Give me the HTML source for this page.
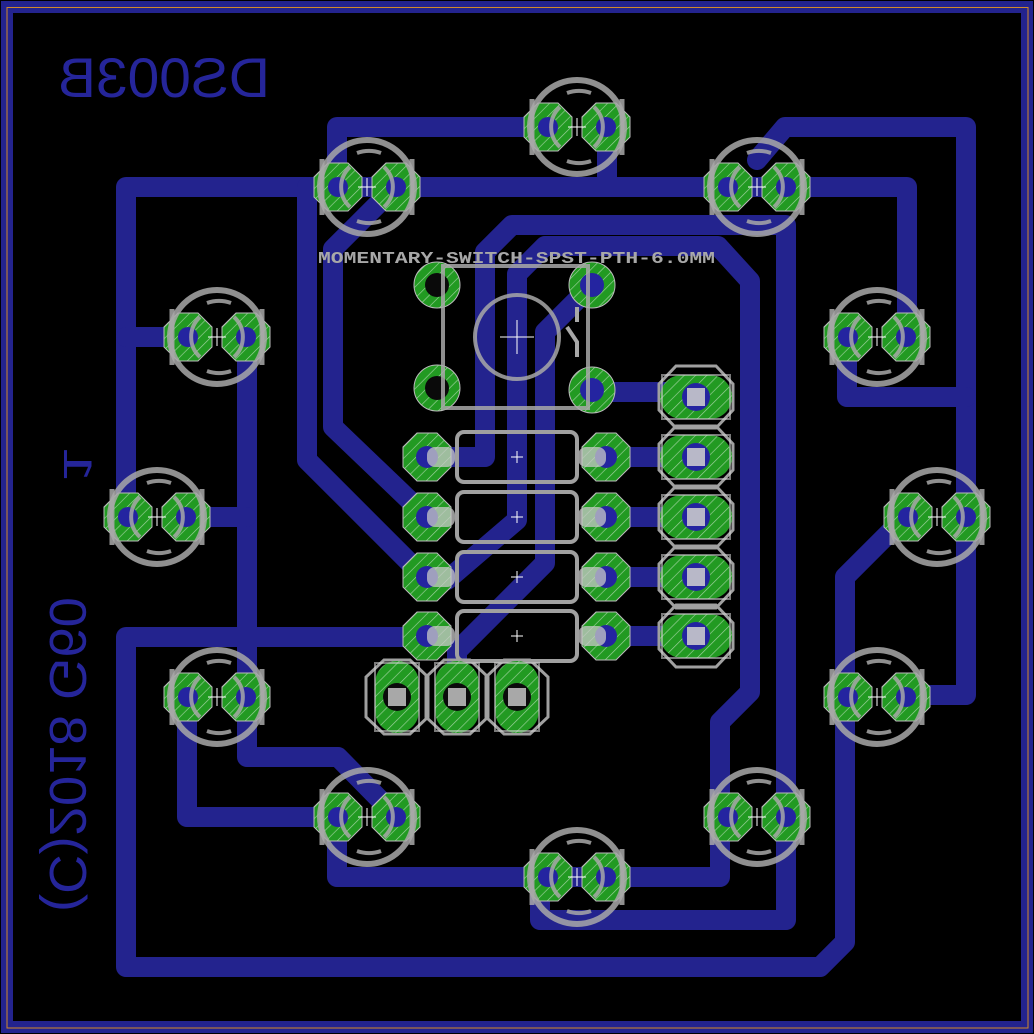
<!DOCTYPE html>
<html><head><meta charset="utf-8"><style>
html,body{margin:0;padding:0;background:#000;}
svg{display:block;}
</style></head><body>
<svg width="1034" height="1034" viewBox="0 0 1034 1034" xmlns="http://www.w3.org/2000/svg">
<defs>
<pattern id="h" width="8" height="8" patternUnits="userSpaceOnUse" patternTransform="rotate(45)">
<rect width="8" height="8" fill="#229a22"/>
<line x1="0" y1="0" x2="0" y2="8" stroke="#9fd29f" stroke-width="1.3"/>
</pattern>
<g id="oct"><polygon points="-10,-24 10,-24 24,-10 24,10 10,24 -10,24 -24,10 -24,-10" fill="url(#h)" stroke="#bbb" stroke-width="1"/></g>
<g id="led">
<use href="#oct" x="-29" y="0"/><use href="#oct" x="29" y="0"/>
<circle cx="-29" cy="0" r="10" fill="#2424a0"/><circle cx="29" cy="0" r="10" fill="#2424a0"/>
<g fill="none" stroke="#a8a8a8" stroke-opacity="0.85" stroke-width="6">
<circle r="47"/>
<path d="M-17,-20 A27,27 0 0 0 -17,20" stroke-width="4"/>
<path d="M17,-20 A27,27 0 0 1 17,20" stroke-width="4"/>
<path d="M-10,-34 A36,36 0 0 1 14,-34" stroke-width="4"/>
<path d="M-10,34 A36,36 0 0 0 14,34" stroke-width="4"/>
<line x1="-45" y1="-28" x2="-45" y2="28" stroke-width="5"/>
<line x1="45" y1="-28" x2="45" y2="28" stroke-width="5"/>
</g>
<path d="M-9,0 H9 M0,-9 V9" stroke="#fff" stroke-width="1"/>
</g>
<g id="res">
<use href="#oct" x="0" y="0"/><use href="#oct" x="179" y="0"/>
<circle cx="0" cy="0" r="11" fill="#2424a0"/><circle cx="179" cy="0" r="11" fill="#2424a0"/>
<rect x="0" y="-10" width="28" height="20" rx="8" fill="#c8c8c8" fill-opacity="0.75"/>
<rect x="151" y="-10" width="28" height="20" rx="8" fill="#c8c8c8" fill-opacity="0.75"/>
<rect x="30" y="-25" width="120" height="50" rx="7" fill="none" stroke="#a0a0a0" stroke-width="4"/>
<path d="M84,0 H96 M90,-6 V6" stroke="#fff" stroke-width="1"/>
</g>
<g id="hcon">
<polygon points="-20,-31 20,-31 37,-13 37,13 20,31 -20,31 -37,13 -37,-13" fill="none" stroke="#a0a0a0" stroke-width="3"/>
<rect x="-36" y="-22" width="72" height="44" rx="22" fill="url(#h)"/>
<rect x="-34" y="-22" width="68" height="44" fill="none" stroke="#ccc" stroke-opacity="0.6" stroke-width="2"/>
<circle r="14" fill="#2424a0"/><rect x="-9" y="-9" width="18" height="18" fill="#b8b8c8"/>
</g>
<g id="vcon">
<polygon points="-31,-20 -31,20 -13,37 13,37 31,20 31,-20 13,-37 -13,-37" fill="none" stroke="#a0a0a0" stroke-width="3"/>
<rect x="-22" y="-36" width="44" height="72" rx="22" fill="url(#h)"/>
<rect x="-22" y="-34" width="44" height="68" fill="none" stroke="#ccc" stroke-opacity="0.6" stroke-width="2"/>
<circle r="14" fill="#0a0a0a"/><rect x="-9" y="-9" width="18" height="18" fill="#a8a8a8"/>
</g>
</defs>

<!-- board frame -->
<g fill="#23238e">
<rect x="1" y="1" width="1032" height="12"/>
<rect x="1" y="1021" width="1032" height="12"/>
<rect x="1" y="1" width="12" height="1032"/>
<rect x="1021" y="1" width="12" height="1032"/>
</g>
<path d="M7 7.5H1028V1028H7Z" fill="none" stroke="#d08a2a" stroke-width="1"/>

<!-- traces -->
<g fill="none" stroke="#23238e" stroke-width="20" stroke-linejoin="round" stroke-linecap="round">
<path d="M547 127 H337 V185"/>
<path d="M607 127 V187"/>
<path d="M126 515 V187 H907 V335"/>
<path d="M307 187 V460 L424 577"/>
<path d="M395 187 L333 249 V427 L427 517"/>
<path d="M126 337 H187"/>
<path d="M247 335 V757 H338 L395 815"/>
<path d="M187 517 H246"/>
<path d="M427 637 H126 V967 H820 L845 942 V577 L907 515"/>
<path d="M187 695 V817 H337"/>
<path d="M337 815 V877 H720 V722 L750 692 V281 L718 246 H545 L517 274 V520 L447 580"/>
<path d="M592 285 L545 332 V563 L457 651 V697"/>
<path d="M427 457 H485 V252 L512 225 H786 V920 H540 V875"/>
<path d="M757 160 L785 127 H966 V695 H907"/>
<path d="M847 335 V397 H966"/>
<path d="M592 392 H696"/>
<path d="M606 457 H696 M606 517 H696 M606 577 H696 M606 636 H696"/>
</g>

<!-- LEDs -->
<use href="#led" x="577" y="127"/>
<use href="#led" x="367" y="187"/>
<use href="#led" x="757" y="187"/>
<use href="#led" x="217" y="337"/>
<use href="#led" x="877" y="337"/>
<use href="#led" x="157" y="517"/>
<use href="#led" x="937" y="517"/>
<use href="#led" x="217" y="697"/>
<use href="#led" x="877" y="697"/>
<use href="#led" x="367" y="817"/>
<use href="#led" x="757" y="817"/>
<use href="#led" x="577" y="877"/>

<!-- switch -->
<g>
<circle cx="437" cy="285" r="23" fill="url(#h)" stroke="#bbb"/><circle cx="437" cy="285" r="12" fill="#0a0a0a"/>
<circle cx="437" cy="388" r="23" fill="url(#h)" stroke="#bbb"/><circle cx="437" cy="388" r="12" fill="#0a0a0a"/>
<circle cx="592" cy="285" r="23" fill="url(#h)" stroke="#bbb"/><circle cx="592" cy="285" r="12" fill="#2424a0"/>
<circle cx="592" cy="390" r="23" fill="url(#h)" stroke="#bbb"/><circle cx="592" cy="390" r="12" fill="#2424a0"/>
<rect x="443" y="266" width="145" height="142" fill="none" stroke="#a8a8a8" stroke-opacity="0.85" stroke-width="4"/>
<circle cx="517" cy="337" r="42" fill="none" stroke="#a8a8a8" stroke-opacity="0.85" stroke-width="4"/>
<path d="M577 307 V322 M567 327 L577 342 V357" fill="none" stroke="#a8a8a8" stroke-width="4"/>
<path d="M500 337 H534 M517 320 V354" stroke="#fff" stroke-width="1"/>
<text x="318" y="263" font-family="Liberation Mono, monospace" font-weight="bold" font-size="17" fill="#a8a8a8" textLength="397" lengthAdjust="spacingAndGlyphs">MOMENTARY-SWITCH-SPST-PTH-6.0MM</text>
</g>

<!-- resistors -->
<use href="#res" x="427" y="457"/>
<use href="#res" x="427" y="517"/>
<use href="#res" x="427" y="577"/>
<use href="#res" x="427" y="636"/>

<!-- connectors -->
<use href="#hcon" x="696" y="397"/>
<use href="#hcon" x="696" y="457"/>
<use href="#hcon" x="696" y="517"/>
<use href="#hcon" x="696" y="577"/>
<use href="#hcon" x="696" y="636"/>
<use href="#vcon" x="397" y="697"/>
<use href="#vcon" x="457" y="697"/>
<use href="#vcon" x="517" y="697"/>

<!-- mirrored bottom text -->
<text transform="translate(270,97) scale(-1,1)" x="0" y="0" font-family="Liberation Sans, sans-serif" font-size="56" fill="#25259a" textLength="212" lengthAdjust="spacingAndGlyphs">DS003B</text>
<text transform="translate(50,912) scale(-1,1) rotate(-90)" x="0" y="0" font-family="Liberation Sans, sans-serif" font-size="52" fill="#25259a" textLength="315" lengthAdjust="spacingAndGlyphs">(C)2018 G60</text>
<text transform="translate(64,483) scale(-1,1) rotate(-90)" x="0" y="0" font-family="Liberation Sans, sans-serif" font-size="40" fill="#25259a" textLength="36" lengthAdjust="spacingAndGlyphs">1</text>
</svg>
</body></html>
